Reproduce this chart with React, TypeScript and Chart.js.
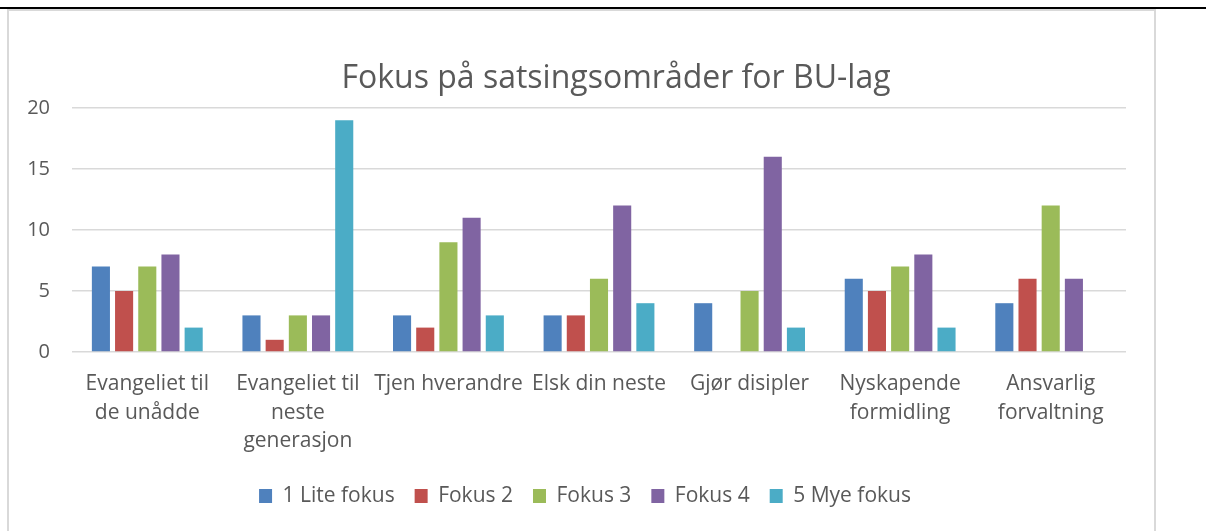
import { useEffect, useRef } from "react";
import { Chart, registerables } from "chart.js";

Chart.register(...registerables);

const TITLE = "Fokus på satsingsområder for BU-lag";

const categories: (string | string[])[] = [
  ["Evangeliet til", "de unådde"],
  ["Evangeliet til", "neste", "generasjon"],
  "Tjen hverandre",
  "Elsk din neste",
  "Gjør disipler",
  ["Nyskapende", "formidling"],
  ["Ansvarlig", "forvaltning"],
];

const seriesNames = ["1 Lite fokus", "Fokus 2", "Fokus 3", "Fokus 4", "5 Mye fokus"];
const liteFokus = [7, 3, 3, 3, 4, 6, 4];
const fokus2 = [5, 1, 2, 3, null, 5, 6];
const fokus3 = [7, 3, 9, 6, 5, 7, 12];
const fokus4 = [8, 3, 11, 12, 16, 8, 6];
const myeFokus = [2, 19, 3, 4, 2, 2, null];
const seriesColors = ["#4F81BD", "#C0504D", "#9BBB59", "#8064A2", "#4BACC6"];
const yMin = 0;
const yMax = 20;
const yStep = 5;

const TEXT = "#595959";
const FONT = "'Open Sans', 'Noto Sans', sans-serif";

const titlePlugin = {
  id: "offsetTitle",
  afterLayout(chart: any) {
    if (chart.legend) {
      chart.legend.left += 17;
      chart.legend.right += 17;
    }
  },
  afterDraw(chart: any) {
    const { ctx, chartArea } = chart;
    ctx.save();
    ctx.font = `32px ${FONT}`;
    ctx.fillStyle = TEXT;
    ctx.textAlign = "center";
    ctx.textBaseline = "middle";
    ctx.fillText(TITLE, (chartArea.left + chartArea.right) / 2 + 17, 68);
    ctx.restore();
  },
};

export default function App() {
  const ref = useRef<HTMLCanvasElement | null>(null);

  useEffect(() => {
    if (!ref.current) return;
    const allSeries = [liteFokus, fokus2, fokus3, fokus4, myeFokus];
    const chart = new Chart(ref.current, {
      type: "bar",
      data: {
        labels: categories,
        datasets: allSeries.map((d, i) => ({
          label: seriesNames[i],
          data: d,
          backgroundColor: seriesColors[i],
          borderWidth: 0,
          categoryPercentage: 0.77,
          barPercentage: 0.78,
        })),
      },
      options: {
        responsive: false,
        animation: false,
        layout: { padding: { top: 97, left: 0, right: 28, bottom: 14.5 } },
        plugins: {
          title: { display: false },
          tooltip: { enabled: false },
          legend: {
            position: "bottom",
            labels: {
              boxWidth: 13,
              boxHeight: 14,
              padding: 20,
              color: TEXT,
              font: { family: FONT, size: 21 },
            },
          },
        },
        scales: {
          x: {
            grid: { display: false },
            border: { display: false },
            ticks: {
              color: TEXT,
              padding: 10,
              maxRotation: 0,
              autoSkip: false,
              font: { family: FONT, size: 21, lineHeight: 1.36 },
            },
            afterFit: (s: any) => {
              s.height = 113.5;
            },
          },
          y: {
            min: yMin,
            max: yMax,
            grid: { color: "#d9d9d9", lineWidth: 1.5, drawTicks: false },
            border: { display: false },
            ticks: {
              stepSize: yStep,
              color: TEXT,
              padding: 22,
              font: { family: FONT, size: 20 },
            },
            afterFit: (s: any) => {
              s.width = 62;
            },
          },
        },
      },
      plugins: [titlePlugin],
    });
    return () => chart.destroy();
  }, []);

  return (
    <div
      style={{
        position: "fixed",
        left: 0,
        top: 0,
        width: 1206,
        height: 531,
        overflow: "hidden",
        background: "#fff",
      }}
    >
      <div style={{ position: "absolute", left: 0, top: 7, width: 1206, height: 2, background: "#000" }} />
      <div style={{ position: "absolute", left: 7, top: 9, width: 1149, height: 522, borderLeft: "2px solid #d9d9d9", borderTop: "2px solid #d9d9d9", borderRight: "2px solid #d9d9d9", boxSizing: "border-box" }} />
      <canvas ref={ref} width={1144} height={520} style={{ position: "absolute", left: 10, top: 11, width: 1144, height: 520 }} />
    </div>
  );
}
